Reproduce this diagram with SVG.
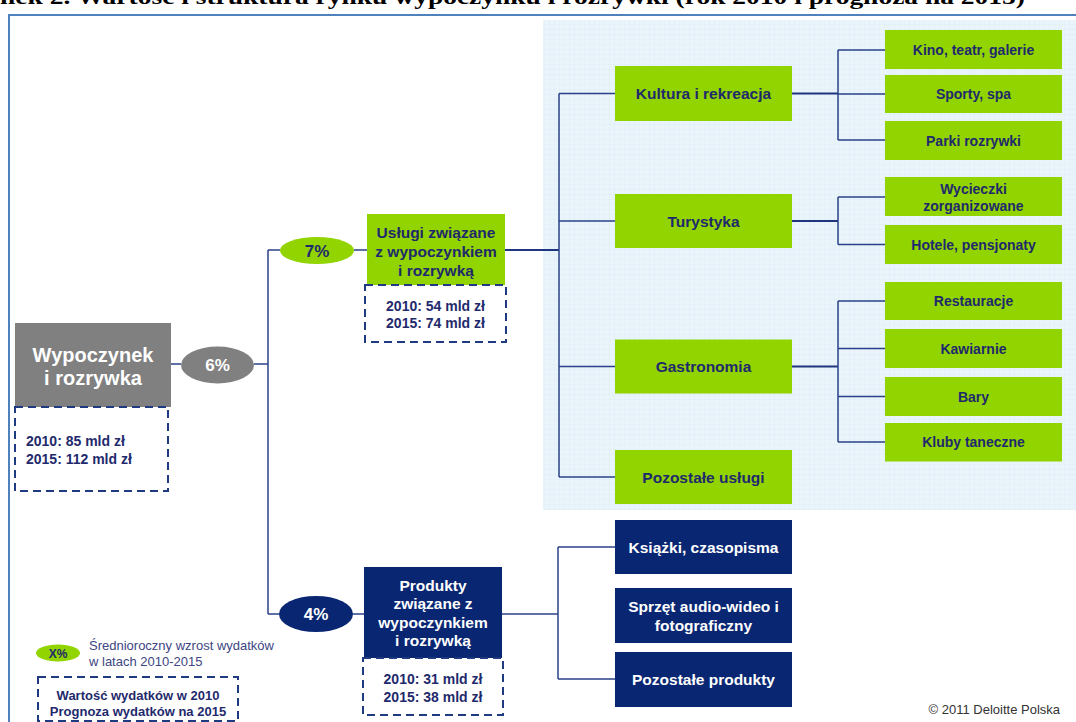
<svg xmlns="http://www.w3.org/2000/svg" width="1076" height="722" viewBox="0 0 1076 722">
<style>
.t{font-family:"Liberation Sans",Arial,sans-serif;font-weight:bold;text-anchor:middle}
.nv{fill:#1f2a6c}
.wh{fill:#ffffff}
.s15{font-size:15.5px}
.s14{font-size:14px}
.s13{font-size:13px}
.green{fill:#92d400}
.navy{fill:#082672}
.dash{fill:#ffffff;stroke:#1f3a80;stroke-width:2;stroke-dasharray:8 5}
.c{fill:none;stroke:#2a4189;stroke-width:1.5}
.ct{fill:none;stroke:#1f3580;stroke-width:2.2}
</style>
<defs>
<pattern id="grid" width="5" height="5" patternUnits="userSpaceOnUse">
<rect width="5" height="5" fill="#eaf4fb"/>
<path d="M5 0V5M0 5H5" stroke="#dcebf5" stroke-width="0.6"/>
</pattern>
</defs>
<rect width="1076" height="722" fill="#ffffff"/>
<text x="0" y="4" font-family="Liberation Serif,serif" font-weight="bold" font-size="21" textLength="1025" lengthAdjust="spacingAndGlyphs" fill="#000">nek 2. Wartość i struktura rynku wypoczynku i rozrywki (rok 2010 i prognoza na 2015)</text>
<rect x="9" y="15" width="1100" height="760" fill="none" stroke="#4f81bd" stroke-width="2"/>
<rect id="panel" x="543" y="20" width="540" height="490" fill="url(#grid)"/>

<g id="connectors">
<path class="c" d="M171 364H181M254 364H268M268 250V614M268 250H280M354 250H367M268 614H279M353 614H364"/>
<path class="ct" d="M505 250H559"/>
<path class="c" d="M559 93.5V477M559 93.5H615M559 221H615M559 366.5H615M559 477H615"/>
<path class="ct" d="M792 93.5H838M792 221H838M792 366.5H838"/>
<path class="c" d="M838 50V140M838 50H885M838 94H885M838 140H885"/>
<path class="c" d="M838 197V244.5M838 197H885M838 244.5H885"/>
<path class="c" d="M838 301V442M838 301H885M838 348.5H885M838 396.5H885M838 442H885"/>
<path class="c" d="M502 614H558M558 547V679M558 547H615M558 679H615"/>
</g>

<g id="root">
<rect x="15" y="323" width="156" height="84" fill="#808080"/>
<text class="t wh" font-size="20" x="93" y="362">Wypoczynek</text>
<text class="t wh" font-size="20" x="93" y="385">i rozrywka</text>
</g>
<g id="root-values">
<rect class="dash" x="15" y="407" width="153" height="84"/>
<text class="t nv s14" x="26" y="446" style="text-anchor:start">2010: 85 mld zł</text>
<text class="t nv s14" x="26" y="464" style="text-anchor:start">2015: 112 mld zł</text>
</g>
<g id="g6">
<ellipse cx="217.5" cy="365" rx="36.5" ry="18.5" fill="#808080"/>
<text class="t wh" font-size="17" x="217.5" y="371">6%</text>
</g>
<g id="g7">
<ellipse cx="317" cy="250.5" rx="37" ry="13.5" class="green"/>
<text class="t nv" font-size="17" x="317" y="256.5">7%</text>
</g>
<g id="g4">
<ellipse cx="316" cy="614" rx="37" ry="18" class="navy"/>
<text class="t wh" font-size="17" x="316" y="620">4%</text>
</g>

<g id="uslugi">
<rect x="367" y="214" width="138" height="71" class="green"/>
<text class="t nv s15" x="436" y="238">Usługi związane</text>
<text class="t nv s15" x="436" y="257">z wypoczynkiem</text>
<text class="t nv s15" x="436" y="276">i rozrywką</text>
</g>
<g id="uslugi-values">
<rect class="dash" x="365" y="285" width="141" height="57"/>
<text class="t nv s14" x="435.5" y="311">2010: 54 mld zł</text>
<text class="t nv s14" x="435.5" y="328">2015: 74 mld zł</text>
</g>
<g id="produkty">
<rect x="364" y="567" width="138" height="91" class="navy"/>
<text class="t wh s15" x="433" y="590.5">Produkty</text>
<text class="t wh s15" x="433" y="608.5">związane z</text>
<text class="t wh s15" x="433" y="628">wypoczynkiem</text>
<text class="t wh s15" x="433" y="646">i rozrywką</text>
</g>
<g id="produkty-values">
<rect class="dash" x="363" y="658" width="140" height="57"/>
<text class="t nv s14" x="433" y="684">2010: 31 mld zł</text>
<text class="t nv s14" x="433" y="702">2015: 38 mld zł</text>
</g>

<g id="kultura"><rect x="615" y="66" width="177" height="55" class="green"/><text class="t nv s15" x="703.5" y="99">Kultura i rekreacja</text></g>
<g id="turystyka"><rect x="615" y="194" width="177" height="54" class="green"/><text class="t nv s15" x="703.5" y="226.5">Turystyka</text></g>
<g id="gastronomia"><rect x="615" y="339.5" width="177" height="54" class="green"/><text class="t nv s15" x="703.5" y="372">Gastronomia</text></g>
<g id="pozostale-uslugi"><rect x="615" y="450" width="177" height="54" class="green"/><text class="t nv s15" x="703.5" y="482.5">Pozostałe usługi</text></g>

<g id="kino"><rect x="885" y="30" width="177" height="39" class="green"/><text class="t nv s14" x="973.5" y="54.5">Kino, teatr, galerie</text></g>
<g id="sporty"><rect x="885" y="75" width="177" height="38" class="green"/><text class="t nv s14" x="973.5" y="99">Sporty, spa</text></g>
<g id="parki"><rect x="885" y="121" width="177" height="39" class="green"/><text class="t nv s14" x="973.5" y="145.5">Parki rozrywki</text></g>
<g id="wycieczki"><rect x="885" y="177" width="177" height="39" class="green"/><text class="t nv s14" x="973.5" y="194">Wycieczki</text><text class="t nv s14" x="973.5" y="211">zorganizowane</text></g>
<g id="hotele"><rect x="885" y="225" width="177" height="39" class="green"/><text class="t nv s14" x="973.5" y="249.5">Hotele, pensjonaty</text></g>
<g id="restauracje"><rect x="885" y="282" width="177" height="38" class="green"/><text class="t nv s14" x="973.5" y="306">Restauracje</text></g>
<g id="kawiarnie"><rect x="885" y="329" width="177" height="39" class="green"/><text class="t nv s14" x="973.5" y="353.5">Kawiarnie</text></g>
<g id="bary"><rect x="885" y="377" width="177" height="39" class="green"/><text class="t nv s14" x="973.5" y="401.5">Bary</text></g>
<g id="kluby"><rect x="885" y="423" width="177" height="38.5" class="green"/><text class="t nv s14" x="973.5" y="447">Kluby taneczne</text></g>

<g id="ksiazki"><rect x="615" y="520" width="177" height="54" class="navy"/><text class="t wh s15" x="703.5" y="552.5">Książki, czasopisma</text></g>
<g id="sprzet"><rect x="615" y="588" width="177" height="55" class="navy"/><text class="t wh s15" x="703.5" y="612">Sprzęt audio-wideo i</text><text class="t wh s15" x="703.5" y="631">fotograficzny</text></g>
<g id="pozostale-produkty"><rect x="615" y="652" width="177" height="55" class="navy"/><text class="t wh s15" x="703.5" y="685">Pozostałe produkty</text></g>

<g id="legend">
<ellipse cx="58" cy="653" rx="22" ry="8.5" class="green"/>
<text class="t nv" font-size="12" x="58" y="657.5">X%</text>
<text x="89" y="650" font-family="Liberation Sans,Arial,sans-serif" font-size="13" fill="#3d4584">Średnioroczny wzrost wydatków</text>
<text x="89" y="666" font-family="Liberation Sans,Arial,sans-serif" font-size="13" fill="#3d4584">w latach 2010-2015</text>
<rect class="dash" x="38" y="677" width="200" height="44"/>
<text class="t nv s13" x="138" y="700">Wartość wydatków w 2010</text>
<text class="t nv s13" x="138" y="716">Prognoza wydatków na 2015</text>
</g>
<text x="1060" y="714" font-family="Liberation Sans,Arial,sans-serif" font-size="13" fill="#333" text-anchor="end">© 2011 Deloitte Polska</text>
</svg>
